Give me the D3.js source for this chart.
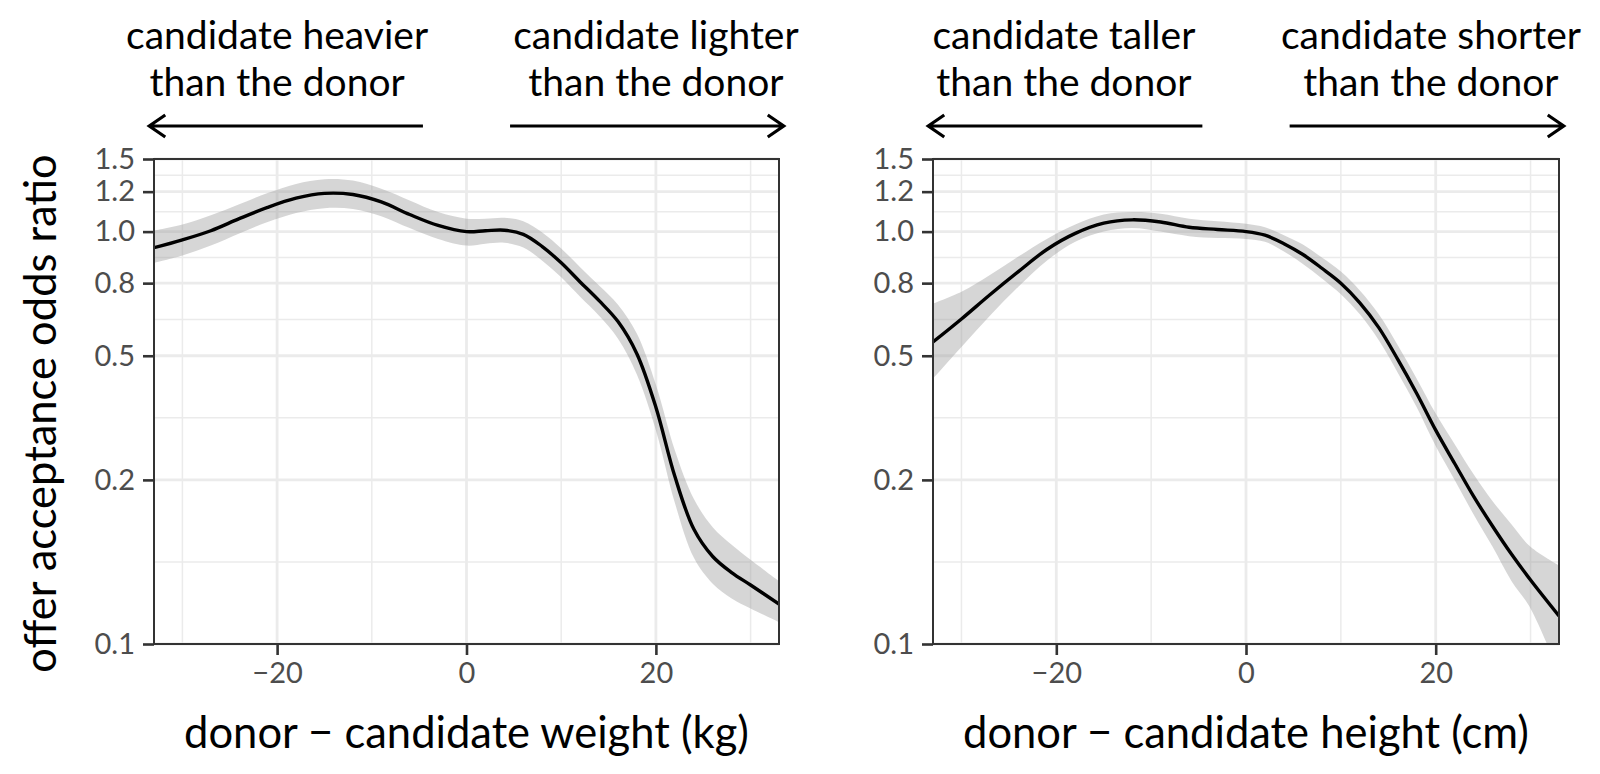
<!DOCTYPE html>
<html>
<head>
<meta charset="utf-8">
<script src="https://cdn.jsdelivr.net/npm/d3@7"></script>
<style>
  html, body { margin: 0; padding: 0; background: #ffffff; }
  svg { display: block; }
</style>
</head>
<body>
<svg id="chart" width="1600" height="774"></svg>
<script>
// ---------------- data ----------------
const weightX   = [-33,-30,-27,-24,-21,-18,-15,-12,-9,-6,-3,0,2,4,6,8,10,12,14,16,18,20,22,24,26,28,30,33];
const weightFit = [0.914,0.955,1.005,1.075,1.145,1.205,1.238,1.23,1.18,1.10,1.035,1.0,1.005,1.008,0.985,0.92,0.84,0.755,0.68,0.605,0.505,0.375,0.255,0.19,0.163,0.149,0.139,0.125];
const weightLo  = [0.84,0.875,0.925,0.99,1.055,1.11,1.14,1.135,1.09,1.02,0.96,0.925,0.935,0.94,0.915,0.85,0.775,0.695,0.625,0.55,0.45,0.33,0.22,0.162,0.14,0.129,0.122,0.113];
const weightHi  = [1.005,1.04,1.095,1.165,1.24,1.305,1.34,1.33,1.27,1.19,1.115,1.075,1.075,1.08,1.06,0.995,0.91,0.82,0.74,0.665,0.565,0.425,0.295,0.225,0.192,0.174,0.16,0.142];

const heightX   = [-33,-30,-27,-24,-21,-18,-15,-12,-9,-6,-3,0,2,4,6,8,10,12,14,16,18,20,22,24,26,28,30,33];
const heightFit = [0.54,0.614,0.703,0.80,0.905,0.99,1.048,1.068,1.055,1.025,1.012,1.0,0.98,0.935,0.88,0.815,0.75,0.672,0.585,0.49,0.405,0.33,0.274,0.228,0.193,0.165,0.143,0.117];
const heightLo  = [0.44,0.525,0.625,0.735,0.85,0.945,1.0,1.02,1.0,0.975,0.965,0.96,0.945,0.895,0.835,0.77,0.705,0.63,0.545,0.455,0.375,0.302,0.25,0.206,0.172,0.142,0.122,0.085];
const heightHi  = [0.669,0.715,0.785,0.87,0.96,1.04,1.10,1.115,1.105,1.075,1.06,1.045,1.025,0.98,0.93,0.865,0.80,0.72,0.63,0.53,0.44,0.362,0.305,0.258,0.222,0.195,0.172,0.155];

const yBreaks = [0.1, 0.25, 0.5, 0.75, 1, 1.25, 1.5];
const yLabels = ["0.1", "0.2", "0.5", "0.8", "1.0", "1.2", "1.5"];
const xBreaks = [-20, 0, 20];
const xLabels = ["\u221220", "0", "20"];
const xMinor  = [-30, -10, 10, 30];

const xTitles = ["donor \u2212 candidate weight (kg)", "donor \u2212 candidate height (cm)"];
const yTitle  = "offer acceptance odds ratio";
const leftNotes  = [["candidate heavier", "than the donor"], ["candidate taller", "than the donor"]];
const rightNotes = [["candidate lighter", "than the donor"], ["candidate shorter", "than the donor"]];
const noteCentres = [[-20, 20], [-19.2, 19.5]];
const arrowLeft  = [-4.6, -33.5];
const arrowRight = [4.6, 33.5];
const xDomain = [-33, 33];
const yDomain = [0.1, 1.5];

// ---------------- drawing ----------------
const svg = d3.select("#chart");
const FONT = "Lato, 'Open Sans', sans-serif";
const pTop = 159, pBottom = 644;
const panels = [
  { x0: 154, x1: 779, xs: weightX, fit: weightFit, lo: weightLo, hi: weightHi },
  { x0: 933, x1: 1559, xs: heightX, fit: heightFit, lo: heightLo, hi: heightHi }
];

const y = d3.scaleLog().domain(yDomain).range([pBottom, pTop]);
const yMinor = d3.range(yBreaks.length - 1).map(i => Math.sqrt(yBreaks[i] * yBreaks[i + 1]));

panels.forEach((p, pi) => {
  const x = d3.scaleLinear().domain(xDomain).range([p.x0, p.x1]);
  const g = svg.append("g");
  const clipId = "clip" + pi;
  svg.append("clipPath").attr("id", clipId)
    .append("rect").attr("x", p.x0).attr("y", pTop).attr("width", p.x1 - p.x0).attr("height", pBottom - pTop);

  // minor grid
  g.selectAll(".ym").data(yMinor).join("line")
    .attr("x1", p.x0).attr("x2", p.x1).attr("y1", d => y(d)).attr("y2", d => y(d))
    .attr("stroke", "#ebebeb").attr("stroke-width", 1.5);
  g.selectAll(".xm").data(xMinor).join("line")
    .attr("y1", pTop).attr("y2", pBottom).attr("x1", d => x(d)).attr("x2", d => x(d))
    .attr("stroke", "#ebebeb").attr("stroke-width", 1.5);
  // major grid
  g.selectAll(".yM").data(yBreaks).join("line")
    .attr("x1", p.x0).attr("x2", p.x1).attr("y1", d => y(d)).attr("y2", d => y(d))
    .attr("stroke", "#ebebeb").attr("stroke-width", 2.8);
  g.selectAll(".xM").data(xBreaks).join("line")
    .attr("y1", pTop).attr("y2", pBottom).attr("x1", d => x(d)).attr("x2", d => x(d))
    .attr("stroke", "#ebebeb").attr("stroke-width", 2.8);

  const rows = p.xs.map((v, i) => ({ x: v, fit: p.fit[i], lo: p.lo[i], hi: p.hi[i] }));
  const area = d3.area().x(d => x(d.x)).y0(d => y(d.lo)).y1(d => y(d.hi)).curve(d3.curveCatmullRom.alpha(0.5));
  const line = d3.line().x(d => x(d.x)).y(d => y(d.fit)).curve(d3.curveCatmullRom.alpha(0.5));
  const clipped = g.append("g").attr("clip-path", `url(#${clipId})`);
  clipped.append("path").datum(rows).attr("d", area).attr("fill", "#999999").attr("fill-opacity", 0.4);
  clipped.append("path").datum(rows).attr("d", line).attr("fill", "none").attr("stroke", "#000").attr("stroke-width", 3.4);

  // border
  g.append("rect").attr("x", p.x0).attr("y", pTop).attr("width", p.x1 - p.x0).attr("height", pBottom - pTop)
    .attr("fill", "none").attr("stroke", "#333333").attr("stroke-width", 2);

  // axes
  const ay = g.append("g").attr("transform", `translate(${p.x0},0)`)
    .call(d3.axisLeft(y).tickValues(yBreaks).tickFormat((d, i) => yLabels[i]).tickSize(11).tickPadding(8));
  const ax = g.append("g").attr("transform", `translate(0,${pBottom})`)
    .call(d3.axisBottom(x).tickValues(xBreaks).tickFormat((d, i) => xLabels[i]).tickSize(11).tickPadding(7));
  [ay, ax].forEach(a => {
    a.select(".domain").remove();
    a.selectAll(".tick line").attr("stroke", "#333333").attr("stroke-width", 2.6);
    a.selectAll(".tick text").attr("fill", "#4d4d4d").style("font-family", FONT).style("font-size", "29px");
  });

  // x title
  svg.append("text").attr("x", (p.x0 + p.x1) / 2).attr("y", 748).attr("text-anchor", "middle")
    .style("font-family", FONT).style("font-size", "43.5px").attr("fill", "#000").text(xTitles[pi]);

  // annotations
  const drawNote = (lines, cxData, a) => {
    const cx = x(cxData);
    lines.forEach((t, li) => {
      svg.append("text").attr("x", cx).attr("y", 49 + li * 47).attr("text-anchor", "middle")
        .style("font-family", FONT).style("font-size", "39px").attr("fill", "#000").text(t);
    });
    const xs = x(a[0]), xe = x(a[1]), ay0 = 126;
    const dir = xe > xs ? -1 : 1;
    const path = d3.path();
    path.moveTo(xs, ay0); path.lineTo(xe, ay0);
    path.moveTo(xe + dir * 16, ay0 - 11); path.lineTo(xe, ay0); path.lineTo(xe + dir * 16, ay0 + 11);
    svg.append("path").attr("d", path.toString()).attr("fill", "none").attr("stroke", "#000")
      .attr("stroke-width", 3.2).attr("stroke-linejoin", "miter");
  };
  drawNote(leftNotes[pi], noteCentres[pi][0], arrowLeft);
  drawNote(rightNotes[pi], noteCentres[pi][1], arrowRight);
});

// y title
svg.append("text").attr("transform", `translate(56,${(pTop + pBottom) / 2 + 12}) rotate(-90)`)
  .attr("text-anchor", "middle").style("font-family", FONT).style("font-size", "43.5px").attr("fill", "#000").text(yTitle);
</script>
</body>
</html>
